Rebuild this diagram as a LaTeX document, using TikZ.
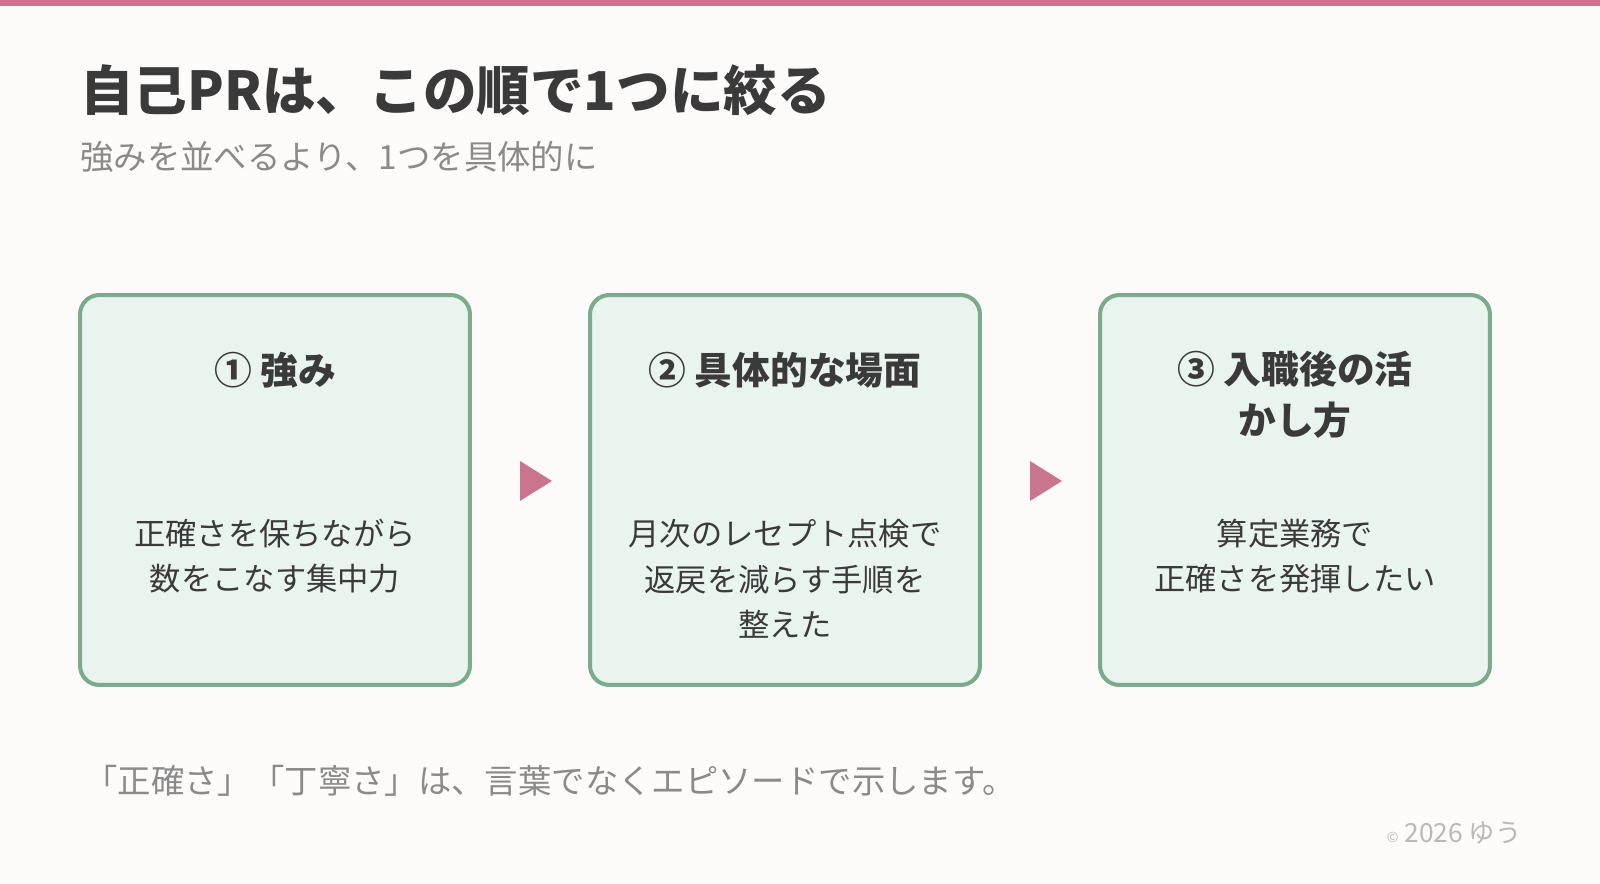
\documentclass[tikz,border=0pt]{standalone}
\usepackage{fontspec}
\setmainfont{Noto Sans CJK JP}
\usetikzlibrary{positioning}
\definecolor{bgcol}{HTML}{FDFBF9}
\definecolor{pinkbar}{HTML}{C9758E}
\definecolor{boxline}{HTML}{7BAA8C}
\definecolor{boxfill}{HTML}{EAF4EE}
\definecolor{darktext}{HTML}{3A3A3A}
\definecolor{greytext}{HTML}{8A8A8A}
\tikzset{
  stepbox/.style={rectangle, rounded corners=11pt, draw=boxline, fill=boxfill, line width=2.3pt, minimum width=7.8cm, minimum height=7.8cm},
  head/.style={font=\fontsize{21.5}{29}\selectfont\bfseries, text=darktext, align=center},
  body/.style={font=\fontsize{17.8}{26}\selectfont, text=darktext, align=center},
  marker/.style={fill=pinkbar, draw=none}
}
\begin{document}
\begin{tikzpicture}[x=0.02cm,y=-0.02cm]
\fill[bgcol] (0,0) rectangle (1600,884);
\fill[pinkbar] (0,0) rectangle (1600,6);

\node (title) [anchor=west, font=\fontsize{30.5}{36}\selectfont\bfseries, text=darktext, inner sep=0] at (80,90) {自己PRは、この順で1つに絞る};
\node (sub) [anchor=west, font=\fontsize{19}{22}\selectfont, text=greytext, inner sep=0] at (80,157) {強みを並べるより、1つを具体的に};

\node (b1) [stepbox] at (275,490) {};
\node (b2) [stepbox] at (785,490) {};
\node (b3) [stepbox] at (1295,490) {};

\node (h1) [head] at (275,370) {① 強み};
\node (h2) [head] at (785,370) {② 具体的な場面};
\node (h3) [head] at (1295,395) {③ 入職後の活\\かし方};

\node (t1) [body] at (275,556) {正確さを保ちながら\\数をこなす集中力};
\node (t2) [body] at (785,579) {月次のレセプト点検で\\返戻を減らす手順を\\整えた};
\node (t3) [body] at (1295,556) {算定業務で\\正確さを発揮したい};

% arrows between steps
\fill[marker] (520,461) -- (552,481) -- (520,501) -- cycle;
\fill[marker] (1030,461) -- (1062,481) -- (1030,501) -- cycle;

\node (note) [anchor=west, font=\fontsize{19}{22}\selectfont, text=greytext, inner sep=0] at (84,781) {「正確さ」「丁寧さ」は、言葉でなくエピソードで示します。};
\node (copy) [anchor=east, font=\fontsize{15}{18}\selectfont, text=greytext!60, inner sep=0] at (1522,833) {{\fontsize{8}{9}\selectfont ©} 2026 ゆう};
\end{tikzpicture}
\end{document}
